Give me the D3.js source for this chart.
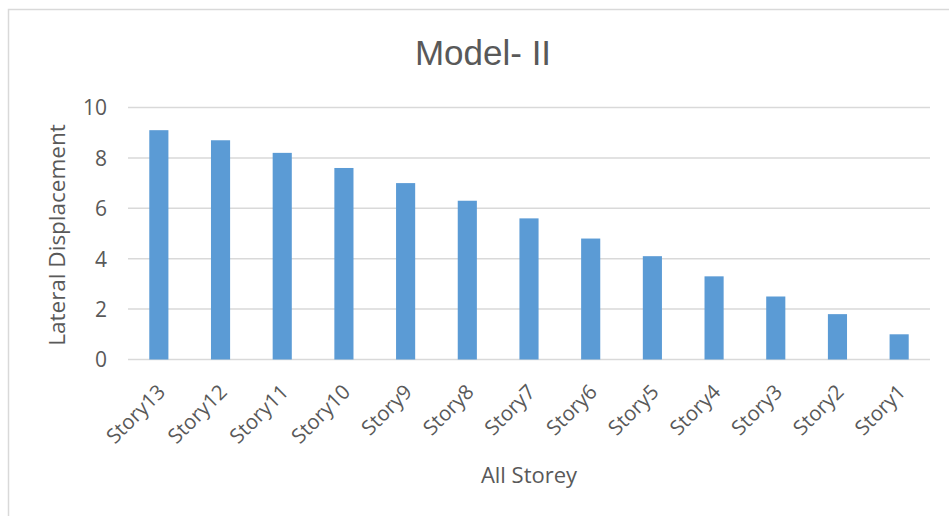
<!DOCTYPE html>
<html>
<head>
<meta charset="utf-8">
<script src="https://cdn.jsdelivr.net/npm/d3@7"></script>
<style>
  html, body { margin: 0; padding: 0; background: #fff; }
  svg { display: block; }
</style>
</head>
<body>
<script>
const categories = ["Story13","Story12","Story11","Story10","Story9","Story8","Story7","Story6","Story5","Story4","Story3","Story2","Story1"];
const values = [9.1, 8.7, 8.2, 7.6, 7.0, 6.3, 5.6, 4.8, 4.1, 3.3, 2.5, 1.8, 1.0];
const yTicks = [0, 2, 4, 6, 8, 10];
const titleText = "Model- II";
const xTitle = "All Storey";
const yTitle = "Lateral Displacement";

(function () {
const W = 949, H = 516;
const textColor = "#595959";
const gridColor = "#D9D9D9";
const barColor = "#5B9BD5";
const font = "'Open Sans', 'Noto Sans', sans-serif";

const svg = d3.select("body").append("svg").attr("width", W).attr("height", H);

// chart border
svg.append("rect")
  .attr("x", 8.5).attr("y", 9.5)
  .attr("width", W + 20).attr("height", H + 20)
  .attr("fill", "#fff").attr("stroke", gridColor).attr("stroke-width", 1.5);

const pLeft = 128, pRight = 930, pTop = 107.5, pBottom = 359.5;

const x = d3.scaleBand().domain(categories).range([pLeft, pRight])
  .paddingInner(0.69).paddingOuter(0.345);
const y = d3.scaleLinear().domain([0, 10]).range([pBottom, pTop]);

// gridlines
svg.append("g").selectAll("line").data(yTicks).join("line")
  .attr("x1", pLeft).attr("x2", pRight)
  .attr("y1", d => y(d)).attr("y2", d => y(d))
  .attr("stroke", gridColor).attr("stroke-width", 1.5);

// y axis labels
const yAxis = d3.axisLeft(y).tickValues(yTicks).tickSize(0).tickPadding(0);
const yg = svg.append("g").attr("transform", `translate(${pLeft - 21},0)`).call(yAxis);
yg.select(".domain").remove();
yg.selectAll("text")
  .attr("fill", textColor).style("font-family", font).style("font-size", "21px")
  .attr("dy", "0.35em");

// bars
svg.append("g").selectAll("rect").data(values).join("rect")
  .attr("x", (d, i) => x(categories[i]))
  .attr("width", x.bandwidth())
  .attr("y", d => y(d))
  .attr("height", d => y(0) - y(d))
  .attr("fill", barColor);

// x labels
const xAxis = d3.axisBottom(x).tickSize(0).tickPadding(0);
const xg = svg.append("g").attr("transform", `translate(0,${pBottom})`).call(xAxis);
xg.select(".domain").remove();
xg.selectAll("text")
  .attr("fill", textColor).style("font-family", font).style("font-size", "20.5px")
  .attr("text-anchor", "end")
  .attr("dy", null).attr("y", null)
  .attr("transform", "translate(2,28) rotate(-45)")
  .attr("dominant-baseline", "central");

// title
svg.append("text")
  .attr("x", 483).attr("y", 65)
  .attr("text-anchor", "middle")
  .attr("fill", textColor)
  .style("font-family", "'Liberation Sans', Arial, sans-serif")
  .style("font-size", "35px")
  .text(titleText);

// x title
svg.append("text")
  .attr("x", 529).attr("y", 483)
  .attr("text-anchor", "middle")
  .attr("fill", textColor)
  .style("font-family", font).style("font-size", "22px")
  .text(xTitle);

// y title
svg.append("text")
  .attr("transform", `translate(65,235) rotate(-90)`)
  .attr("text-anchor", "middle")
  .attr("fill", textColor)
  .style("font-family", font).style("font-size", "22.5px")
  .text(yTitle);
})();
</script>
</body>
</html>
